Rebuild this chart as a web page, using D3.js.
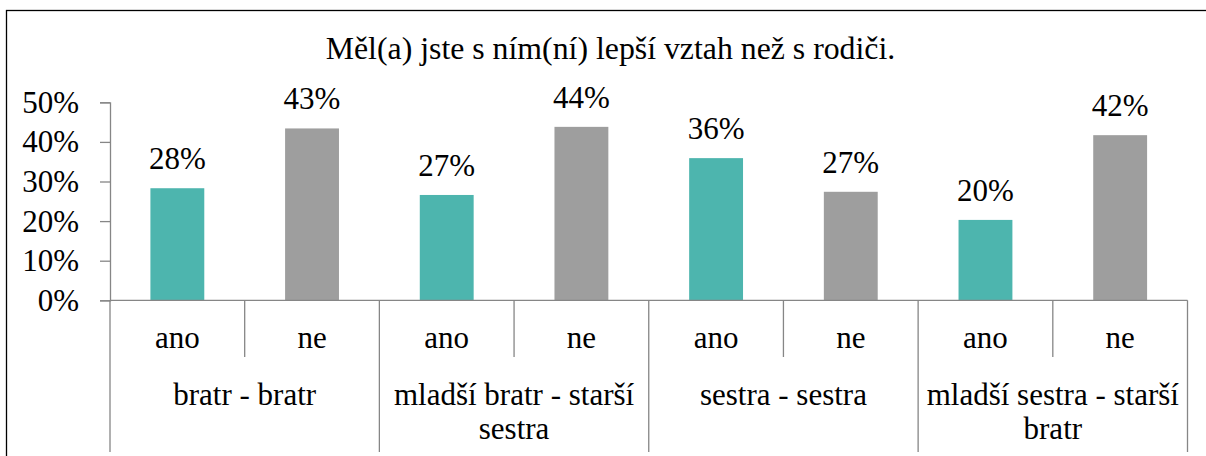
<!DOCTYPE html>
<html><head><meta charset="utf-8">
<script src="https://cdn.jsdelivr.net/npm/d3@7"></script>
</head><body style="margin:0;background:#fff"><svg id="c" width="1206" height="456" style="display:block"></svg>
<script>
const title = "Měl(a) jste s ním(ní) lepší vztah než s rodiči.";
const groups = ["bratr - bratr", "mladší bratr - starší sestra", "sestra - sestra", "mladší sestra - starší bratr"];
const answers = ["ano", "ne"];
const values = [0.283, 0.434, 0.266, 0.438, 0.359, 0.274, 0.203, 0.417];
const yTicks = [0, 0.1, 0.2, 0.3, 0.4, 0.5];
const answerColors = ["#4db5ae", "#9e9e9e"];

(function () {
const svg = d3.select("#c");
const FONT = "Liberation Serif";
const fs = 31;
const axisColor = "#868686";
const sw = 1.3;

function txt(sel) {
  return sel.attr("font-family", FONT).attr("font-size", fs).attr("fill", "#000");
}

// outer frame
svg.append("rect").attr("x", 6.5).attr("y", 10.5).attr("width", 1220).attr("height", 470)
  .attr("fill", "none").attr("stroke", "#000").attr("stroke-width", 1.3);

txt(svg.append("text")).attr("font-size", 31.8).attr("x", 610.5).attr("y", 59).attr("text-anchor", "middle").text(title);

const slots = [];
groups.forEach((g, gi) => answers.forEach((a, ai) => slots.push({g, a, ai, v: values[gi * 2 + ai], key: gi + "-" + a})));

const pLeft = 110, pRight = 1187.5, pTop = 102.3, pBase = 300.3;
const x = d3.scaleBand().domain(slots.map(d => d.key)).range([pLeft, pRight]).paddingInner(0.6).paddingOuter(0.3);
const slotX = d3.scaleBand().domain(slots.map(d => d.key)).range([pLeft, pRight]).padding(0);
const gx = d3.scaleBand().domain(groups).range([pLeft, pRight]).padding(0);
const y = d3.scaleLinear().domain([0, 0.5]).range([pBase, pTop]);

// y axis
const yAxis = svg.append("g").attr("transform", `translate(${pLeft},0)`)
  .call(d3.axisLeft(y).tickValues(yTicks).tickFormat(d3.format(".0%")).tickSize(10).tickPadding(21));
yAxis.attr("font-family", FONT).attr("font-size", fs);
yAxis.select(".domain").attr("stroke", axisColor).attr("stroke-width", sw);
yAxis.selectAll(".tick line").attr("stroke", axisColor).attr("stroke-width", sw);
txt(yAxis.selectAll(".tick text"));

// bars
svg.append("g").selectAll("rect").data(slots).join("rect")
  .attr("x", d => x(d.key)).attr("width", x.bandwidth())
  .attr("y", d => y(d.v)).attr("height", d => y(0) - y(d.v))
  .attr("fill", d => answerColors[d.ai]);

// data labels
txt(svg.append("g").selectAll("text").data(slots).join("text"))
  .attr("x", d => x(d.key) + x.bandwidth() / 2).attr("y", d => y(d.v) - 19)
  .attr("text-anchor", "middle")
  .text(d => d3.format(".0%")(d.v));

// x axis line
svg.append("line").attr("x1", pLeft).attr("x2", pRight).attr("y1", pBase).attr("y2", pBase)
  .attr("stroke", axisColor).attr("stroke-width", sw);

// slot dividers (short)
const slotEdges = slots.map(d => slotX(d.key)).filter((v, i) => i % 2 === 1);
svg.append("g").selectAll("line").data(slotEdges).join("line")
  .attr("x1", d => d).attr("x2", d => d).attr("y1", pBase).attr("y2", 357)
  .attr("stroke", axisColor).attr("stroke-width", sw);

// group dividers (long)
const groupEdges = groups.map(g => gx(g)).concat([pRight]);
svg.append("g").selectAll("line").data(groupEdges).join("line")
  .attr("x1", d => d).attr("x2", d => d).attr("y1", pBase).attr("y2", 452)
  .attr("stroke", axisColor).attr("stroke-width", sw);

// answer labels
txt(svg.append("g").selectAll("text").data(slots).join("text"))
  .attr("x", d => slotX(d.key) + slotX.bandwidth() / 2).attr("y", 348)
  .attr("text-anchor", "middle").text(d => d.a);

// group labels with wrapping
const maxW = gx.bandwidth() - 2;
txt(svg.append("g").selectAll("text").data(groups).join("text"))
  .attr("x", d => gx(d) + gx.bandwidth() / 2).attr("y", 405)
  .attr("text-anchor", "middle")
  .each(function (d) {
    const t = d3.select(this);
    const cx = gx(d) + gx.bandwidth() / 2;
    const words = d.split(" ");
    let line = [];
    let ts = t.append("tspan").attr("x", cx).attr("dy", 0);
    words.forEach(w => {
      line.push(w);
      ts.text(line.join(" "));
      if (ts.node().getComputedTextLength() > maxW && line.length > 1) {
        line.pop();
        ts.text(line.join(" "));
        line = [w];
        ts = t.append("tspan").attr("x", cx).attr("dy", 34).text(w);
      }
    });
  });
})();
</script>
</body></html>
